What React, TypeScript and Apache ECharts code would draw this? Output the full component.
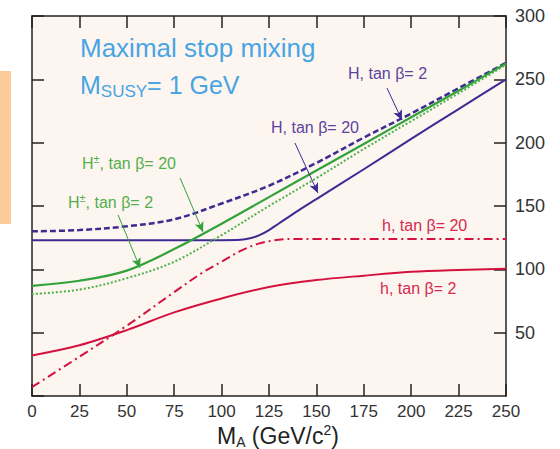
import React, { useEffect, useRef } from "react";
import * as echarts from "echarts";

// [M_A, mass] pairs
const hTan2: number[][] = [[0, 32], [25, 40], [50, 52], [75, 66], [100, 77], [125, 86], [150, 91.5], [175, 95], [200, 98], [225, 99.5], [250, 100.5]];
const hTan20: number[][] = [[0, 7], [25, 31], [50, 55.5], [75, 82], [90, 97.5], [100, 106], [110, 114.5], [120, 120.5], [130, 123.3], [140, 124], [150, 124], [175, 124], [200, 124], [225, 124], [250, 124]];
const HTan20: number[][] = [[0, 123], [25, 123], [50, 123], [75, 123], [100, 123], [110, 123.3], [115, 124.5], [120, 127], [125, 131], [130, 136], [140, 146], [150, 155.5], [175, 179], [200, 203], [225, 226.5], [250, 250]];
const HTan2: number[][] = [[0, 130], [25, 131], [50, 134], [75, 139.5], [100, 152], [125, 166], [150, 184], [175, 204], [200, 223], [225, 243], [250, 263]];
const HpmTan20: number[][] = [[0, 87], [25, 91], [50, 99], [75, 116], [100, 136], [125, 157], [150, 178], [175, 199], [200, 220], [225, 241], [250, 262.5]];
const HpmTan2: number[][] = [[0, 80.5], [25, 84], [50, 93], [75, 106], [100, 127], [125, 150], [150, 172], [175, 195], [200, 217], [225, 239], [250, 261.5]];

// annotation arrows: [from, to] in data coordinates
const arrowH2 = [[187.2, 243.2], [195.1, 217.9]];
const arrowH20 = [[138.7, 199.7], [150.8, 160.3]];
const arrowHpm20 = [[78.1, 172.1], [90.2, 129.5]];
const arrowHpm2 = [[45.4, 142.9], [57.0, 101.1]];

const xRange = [0, 250, 25];
const yRange = [0, 300, 50];

const FONT = "'Liberation Sans', Arial, Helvetica, sans-serif";
const PURPLE = "#3D2A92";
const PURPLE_T = "#5B449F";
const GREEN = "#33A23A";
const GREEN_D = "#4DB04A";
const GREEN_T = "#54AE4C";
const RED = "#D3123E";
const RED_T = "#D42B4E";
const BLUE_T = "#49A4E4";

function arrow(a: number[][], color: string) {
  return {
    silent: true,
    symbol: ["none", "arrow"],
    symbolSize: [7, 10],
    label: { show: false },
    lineStyle: { color, width: 1, type: "solid" },
    emphasis: { disabled: true },
    data: [[{ coord: a[0] }, { coord: a[1] }]],
  };
}

export default function App() {
  const ref = useRef<HTMLDivElement>(null);
  useEffect(() => {
    if (!ref.current) return;
    const chart = echarts.init(ref.current, null, { renderer: "svg" });
    const axisLine = { show: true, onZero: false, lineStyle: { color: "#222", width: 1.5 } };
    const tick = { show: true, inside: true, length: 12, lineStyle: { color: "#222", width: 1.5 } };
    const line = (name: string, data: number[][], color: string, width: number, type: any, extra: any = {}) => ({
      name,
      type: "line",
      data,
      showSymbol: false,
      smooth: 0.35,
      lineStyle: { color, width, type },
      itemStyle: { color },
      emphasis: { disabled: true },
      ...extra,
    });
    chart.setOption({
      animation: false,
      grid: { left: 32, top: 16, right: 54, bottom: 53, show: true, backgroundColor: "#FDF6F0", borderWidth: 0 },
      xAxis: [
        {
          type: "value", min: xRange[0], max: xRange[1], interval: xRange[2], position: "bottom",
          axisLine, axisTick: tick, splitLine: { show: false },
          axisLabel: { fontSize: 17, color: "#333", fontFamily: FONT, margin: 7 },
        },
        {
          type: "value", min: xRange[0], max: xRange[1], interval: xRange[2], position: "top",
          axisLine, axisTick: tick, splitLine: { show: false }, axisLabel: { show: false },
        },
      ],
      yAxis: [
        {
          type: "value", min: yRange[0], max: yRange[1], interval: yRange[2], position: "right",
          axisLine, axisTick: tick, splitLine: { show: false },
          axisLabel: { fontSize: 18, color: "#333", fontFamily: FONT, margin: 9, showMinLabel: false },
        },
        {
          type: "value", min: yRange[0], max: yRange[1], interval: yRange[2], position: "left",
          axisLine, axisTick: tick, splitLine: { show: false }, axisLabel: { show: false },
        },
      ],
      series: [
        line("h tanb=2", hTan2, RED, 2, "solid"),
        line("h tanb=20", hTan20, RED, 2, [9, 4, 2, 4]),
        line("H tanb=20", HTan20, PURPLE, 2, "solid", { markLine: arrow(arrowH20, PURPLE) }),
        line("H tanb=2", HTan2, PURPLE, 2.5, [6, 3], { markLine: arrow(arrowH2, PURPLE) }),
        line("Hpm tanb=20", HpmTan20, GREEN, 2.2, "solid", { markLine: arrow(arrowHpm20, GREEN) }),
        line("Hpm tanb=2", HpmTan2, GREEN_D, 2, [2, 2], { markLine: arrow(arrowHpm2, GREEN) }),
      ],
      graphic: [
        { type: "rect", left: 0, top: 71, shape: { width: 11, height: 153 }, style: { fill: "#FDCB97" }, silent: true },
        { type: "text", x: 80, y: 48, style: { text: "Maximal stop mixing", fill: BLUE_T, fontSize: 26, fontFamily: FONT, verticalAlign: "middle" } },
        {
          type: "text", x: 80, y: 85,
          style: {
            text: "{a|M}{s|SUSY}{a|= 1 GeV}", fill: BLUE_T, fontFamily: FONT, verticalAlign: "middle",
            rich: {
              a: { fontSize: 25, fill: BLUE_T, fontFamily: FONT },
              s: { fontSize: 17, fill: BLUE_T, fontFamily: FONT, padding: [13, 0, 0, 0] },
            },
          },
        },
        { type: "text", x: 348, y: 73, style: { text: "H, tan β= 2", fill: PURPLE_T, fontSize: 16, fontFamily: FONT, verticalAlign: "middle" } },
        { type: "text", x: 271, y: 127, style: { text: "H, tan β= 20", fill: PURPLE_T, fontSize: 16, fontFamily: FONT, verticalAlign: "middle" } },
        {
          type: "text", x: 82, y: 163,
          style: {
            text: "{a|H}{p|±}{a|, tan β= 20}", fill: GREEN_T, fontFamily: FONT, verticalAlign: "middle",
            rich: {
              a: { fontSize: 16, fill: GREEN_T, fontFamily: FONT },
              p: { fontSize: 11, fill: GREEN_T, fontFamily: FONT, padding: [0, 0, 9, 0] },
            },
          },
        },
        {
          type: "text", x: 68, y: 202,
          style: {
            text: "{a|H}{p|±}{a|, tan β= 2}", fill: GREEN_T, fontFamily: FONT, verticalAlign: "middle",
            rich: {
              a: { fontSize: 16, fill: GREEN_T, fontFamily: FONT },
              p: { fontSize: 11, fill: GREEN_T, fontFamily: FONT, padding: [0, 0, 9, 0] },
            },
          },
        },
        { type: "text", x: 382, y: 225, style: { text: "h, tan β= 20", fill: RED_T, fontSize: 16, fontFamily: FONT, verticalAlign: "middle" } },
        { type: "text", x: 380, y: 288, style: { text: "h, tan β= 2", fill: RED_T, fontSize: 16, fontFamily: FONT, verticalAlign: "middle" } },
        {
          type: "text", x: 217, y: 436,
          style: {
            text: "{a|M}{s|A}{a| (GeV/c}{p|2}{a|)}", fill: "#222", fontFamily: FONT, verticalAlign: "middle",
            rich: {
              a: { fontSize: 23, fill: "#222", fontFamily: FONT },
              s: { fontSize: 14, fill: "#222", fontFamily: FONT, padding: [12, 0, 0, 0] },
              p: { fontSize: 14, fill: "#222", fontFamily: FONT, padding: [0, 0, 12, 0] },
            },
          },
        },
      ],
    });
    return () => chart.dispose();
  }, []);
  return (
    <div
      ref={ref}
      style={{ position: "absolute", left: 0, top: 0, width: 560, height: 449, background: "#fff" }}
    />
  );
}
